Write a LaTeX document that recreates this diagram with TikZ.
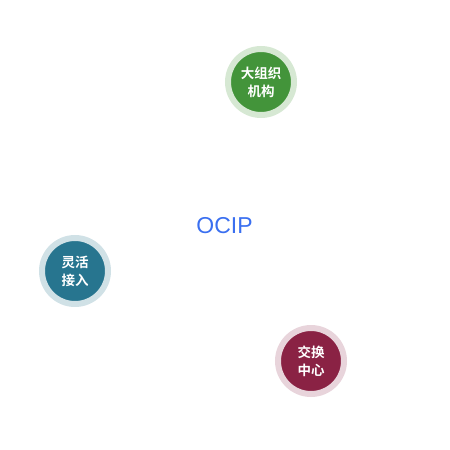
\documentclass[tikz,border=0pt]{standalone}
\usepackage{fontspec}
\setmainfont{Liberation Sans}
\newfontfamily\cjk{Noto Sans CJK SC Bold}
\usetikzlibrary{positioning}

\definecolor{orggreen}{HTML}{43943A}
\definecolor{orgring}{HTML}{D6E8D3}
\definecolor{accblue}{HTML}{27758F}
\definecolor{accring}{HTML}{D0E1E6}
\definecolor{hubred}{HTML}{8A2244}
\definecolor{hubring}{HTML}{E8D4DB}
\definecolor{ociptext}{HTML}{3A6FF0}

\begin{document}
\begin{tikzpicture}[
	x=1pt, y=-1pt,
	ring/.style={
		circle,
		draw,
		line width=6pt,
		minimum size=66pt,
		inner sep=0pt,
		text=white,
		align=center,
		font=\cjk\fontsize{13.5}{18}\selectfont
	},
	title/.style={
		text=ociptext,
		font=\fontsize{23}{24}\selectfont
	}
	]
	\useasboundingbox (0,0) rectangle (450,450);
	
	% ======================
	% Centre label
	% ======================
	\node (ocip) [title] at (224.5,226) {OCIP};
	
	% ======================
	% Surrounding circles
	% ======================
	\node (org) [ring, fill=orggreen, draw=orgring] at (261,82) {大组织\\机构};
	\node (acc) [ring, fill=accblue, draw=accring] at (75,271) {灵活\\接入};
	\node (hub) [ring, fill=hubred, draw=hubring] at (311,361) {交换\\中心};
	
\end{tikzpicture}
\end{document}
